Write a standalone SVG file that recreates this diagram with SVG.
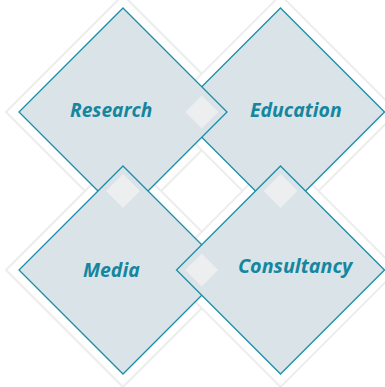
<svg xmlns="http://www.w3.org/2000/svg" width="385" height="387" viewBox="0 0 385 387">
<defs>
<style>
.halo{fill:#ffffff;stroke:#ededed;stroke-width:2}
.dia{fill:#d9e3e8;stroke:#1a8ea8;stroke-width:1.3}
.sq{fill:#edeef0}
.lbl{font-family:"Open Sans","Liberation Sans",sans-serif;font-weight:bold;font-style:italic;font-size:19.5px;fill:#14869f}
</style>
</defs>
<rect width="385" height="387" fill="#ffffff"/>
<g id="halos">
<polygon class="halo" points="123,-5 240,112 123,229 6,112"/>
<polygon class="halo" points="280.5,-5 397.5,112 280.5,229 163.5,112"/>
<polygon class="halo" points="123,153 240,270 123,387 6,270"/>
<polygon class="halo" points="280.5,153 397.5,270 280.5,387 163.5,270"/>
</g>
<g id="education">
<polygon class="dia" points="280.5,8 384.5,112 280.5,216 176.5,112"/>
<text class="lbl" x="250" y="116.7" textLength="91.7" lengthAdjust="spacingAndGlyphs">Education</text>
</g>
<g id="research">
<polygon class="dia" points="123,8 227,112 123,216 19,112"/>
<polygon class="sq" points="201.75,95.5 218.25,112 201.75,128.5 185.25,112"/>
<text class="lbl" x="70" y="116.7" textLength="82.3" lengthAdjust="spacingAndGlyphs">Research</text>
</g>
<g id="media">
<polygon class="dia" points="123,166 227,270 123,374 19,270"/>
<polygon class="sq" points="123,174 140,191 123,208 106,191"/>
<text class="lbl" x="83" y="276.7" textLength="56.7" lengthAdjust="spacingAndGlyphs">Media</text>
</g>
<g id="consultancy">
<polygon class="dia" points="280.5,166 384.5,270 280.5,374 176.5,270"/>
<polygon class="sq" points="280.5,174 297.5,191 280.5,208 263.5,191"/>
<polygon class="sq" points="201.75,253.5 218.25,270 201.75,286.5 185.25,270"/>
<text class="lbl" x="238" y="272.5" textLength="114.3" lengthAdjust="spacingAndGlyphs">Consultancy</text>
</g>
<g id="connectors"/>
</svg>
